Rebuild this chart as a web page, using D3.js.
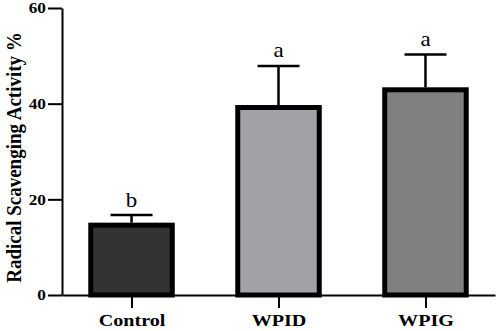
<!DOCTYPE html>
<html><head><meta charset="utf-8">
<script src="https://cdn.jsdelivr.net/npm/d3@7"></script>
<style>body{margin:0;background:#fff}svg{display:block}</style>
</head><body>
<svg id="c" width="498" height="331"></svg>
<script>
const categories = ["Control", "WPID", "WPIG"];
const means = [14.6, 39.2, 42.9];
const errors = [2.1, 8.7, 7.4];
const letters = ["b", "a", "a"];
const fills = ["#333333", "#a2a1a6", "#808080"];
const yTicks = [0, 20, 40, 60];
const yTitle = "Radical Scavenging Activity %";

const SX = 1.15;
const svg = d3.select("#c");
const x = d3.scalePoint().domain(categories).range([62, 495]).padding(0.473);
const y = d3.scaleLinear().domain([0, 60]).range([295, 8]);
const barW = 81.5;
const serif = "'Liberation Serif','Times New Roman',serif";

// bars
svg.selectAll("rect.bar").data(categories).enter().append("rect")
  .attr("x", d => x(d) - barW / 2)
  .attr("y", (d, i) => y(means[i]))
  .attr("width", barW)
  .attr("height", (d, i) => y(0) - y(means[i]))
  .attr("fill", (d, i) => fills[i])
  .attr("stroke", "#000").attr("stroke-width", 5);

// error bars
const eb = svg.selectAll("g.eb").data(categories).enter().append("g");
eb.append("line")
  .attr("x1", d => x(d)).attr("x2", d => x(d))
  .attr("y1", (d, i) => y(means[i]) - 2.5)
  .attr("y2", (d, i) => y(means[i] + errors[i]))
  .attr("stroke", "#000").attr("stroke-width", 2.5);
eb.append("line")
  .attr("x1", d => x(d) - 21).attr("x2", d => x(d) + 21)
  .attr("y1", (d, i) => y(means[i] + errors[i]))
  .attr("y2", (d, i) => y(means[i] + errors[i]))
  .attr("stroke", "#000").attr("stroke-width", 2.5);
eb.append("text")
  .attr("transform", (d, i) => `translate(${x(d)},${y(means[i] + errors[i]) - 8.5}) scale(${SX},1)`)
  .attr("text-anchor", "middle")
  .attr("font-family", serif).attr("font-size", 20)
  .attr("fill", "#000")
  .text((d, i) => letters[i]);

// axes
const yAxis = svg.append("g").attr("transform", "translate(62,0)")
  .call(d3.axisLeft(y).tickValues(yTicks).tickSize(14).tickSizeOuter(0).tickPadding(0));
const xAxis = svg.append("g").attr("transform", "translate(0,295)")
  .call(d3.axisBottom(x).tickSize(13).tickSizeOuter(0).tickPadding(6));
[yAxis, xAxis].forEach(a => {
  a.attr("font-family", serif).attr("font-weight", "bold");
  a.select(".domain").attr("stroke", "#000").attr("stroke-width", 2);
  a.selectAll(".tick line").attr("stroke", "#000").attr("stroke-width", 2);
  a.selectAll(".tick text").attr("fill", "#000");
});
yAxis.attr("font-size", 15);
yAxis.selectAll(".tick text").attr("transform", `scale(${SX},1)`);
xAxis.attr("font-size", 17.5);
xAxis.selectAll(".tick text").attr("transform", `scale(${SX},1)`);

// y title
svg.append("text")
  .attr("transform", `translate(21,157.5) scale(${SX},1) rotate(-90)`)
  .attr("text-anchor", "middle")
  .attr("font-family", serif).attr("font-weight", "bold").attr("font-size", 19)
  .attr("fill", "#000")
  .text(yTitle);
</script>
</body></html>
